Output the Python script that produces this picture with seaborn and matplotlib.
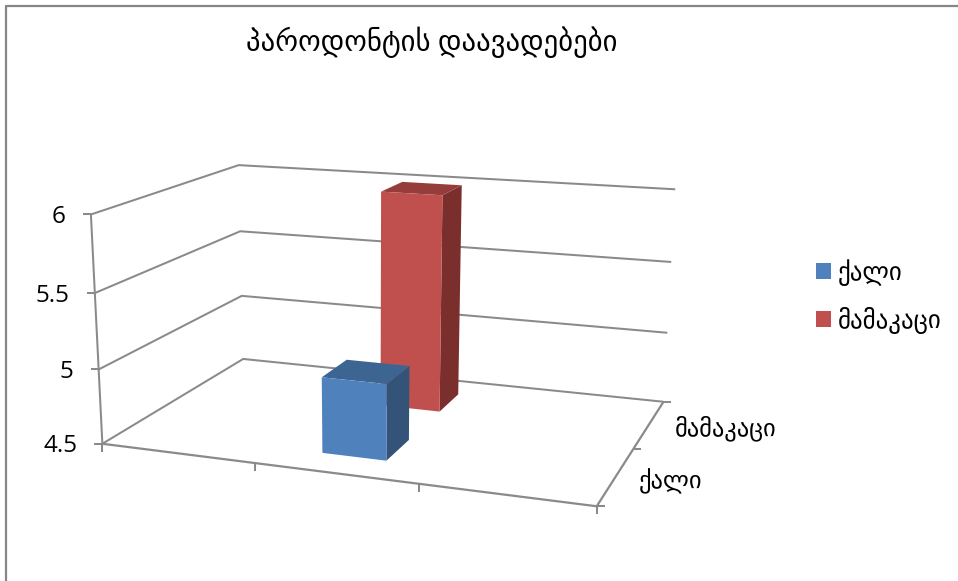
import numpy as np
import pandas as pd
import seaborn as sns
import matplotlib
matplotlib.use("Agg")
import matplotlib.pyplot as plt
from matplotlib.patches import Polygon, Patch

# ---- data ----
title = "პაროდონტის დაავადებები"
series = ["ქალი", "მამაკაცი"]
category_slots = ["", "", ""]
bar_slot = [1, 1]
values = [5.0, 6.0]
value_ticks = [4.5, 5.0, 5.5, 6.0]
value_labels = ["4.5", "5", "5.5", "6"]

df = pd.DataFrame({"series": series, "slot": bar_slot, "value": values})

sns.set_theme(style="white")
plt.rcParams["font.family"] = ["Open Sans", "DejaVu Sans"]

# ---- projection of the chart box (x, depth, value) onto the page ----
vmin, vmax = value_ticks[0], value_ticks[-1]
box = np.array([[0, 0, vmin], [1, 0, vmin], [1, 1, vmin], [0, 1, vmin],
                [0, 0, vmax], [0, 1, vmax], [1, 1, vmax],
                [0, 0, 5.0], [0, 1, 5.0], [1, 1, 5.0],
                [0, 0, 5.5], [0, 1, 5.5], [1, 1, 5.5]], float)
page = np.array([[102, 443.5], [597, 506], [663, 402], [243, 359],
                 [90.5, 215], [239, 165], [675, 189],
                 [99, 369.5], [242, 296], [668, 333],
                 [95, 293], [240, 231], [671, 262]], float)
A, b = [], []
for (X, Y, Z), (u, v) in zip(box, page):
    A.append([X, Y, Z, 1, 0, 0, 0, 0, -u*X, -u*Y, -u*Z]); b.append(u)
    A.append([0, 0, 0, 0, X, Y, Z, 1, -v*X, -v*Y, -v*Z]); b.append(v)
P = np.append(np.linalg.lstsq(np.array(A), np.array(b), rcond=None)[0], 1).reshape(3, 4)

def proj(x, y, z):
    q = P @ np.array([x, y, z, 1.0])
    return q[0]/q[2], q[1]/q[2]

fig = plt.figure(figsize=(9.58, 5.81), dpi=100, facecolor="white")
ax = fig.add_axes([0, 0, 1, 1])
ax.set_xlim(0, 958); ax.set_ylim(581, 0); ax.axis("off")

GRID = "#8a8a8a"
def line(pts, lw=1.45, color=GRID, z=2):
    xs, ys = zip(*pts)
    ax.plot(xs, ys, color=color, lw=lw, solid_capstyle="butt", solid_joinstyle="miter", zorder=z)

# outer frame
ax.plot([958, 6, 6], [6, 6, 581], color="#868686", lw=1.6, zorder=1)

# walls and floor
for v, lab in zip(value_ticks, value_labels):
    a, b_, c = proj(0, 0, v), proj(0, 1, v), proj(1, 1, v)
    line([a, b_, c])
    line([(a[0]-8, a[1]), a])
    ax.text(a[0]-25, a[1]+2.5, lab, ha="right", va="center", fontsize=17.5, color="black", zorder=6)
line([proj(0, 0, vmin), proj(0, 0, vmax)])
line([proj(0, 0, vmin), proj(1, 0, vmin)], lw=1.6, z=5)
line([proj(1, 0, vmin), proj(1, 1, vmin)], lw=1.6, z=5)

# category and depth ticks
n = len(category_slots)
for i in range(n+1):
    p = proj(i/n, 0, vmin)
    line([p, (p[0], p[1]+8)], z=5)
for j in range(len(series)+1):
    p = proj(1, j/len(series), vmin)
    line([p, (p[0]+8, p[1])], z=5)
for j, s in enumerate(series):
    p = proj(1, (j+0.5)/len(series), vmin)
    ax.text(p[0]+(23 if j == 0 else 26), p[1]+(5 if j == 0 else 4), s, ha="left", va="center",
            fontsize=17.6, color="black", zorder=6)

# bars
palette = sns.color_palette(["#4F81BD", "#C0504D"])
tops = ["#3C6591", "#953D3B"]
sides = ["#335379", "#7A2F2D"]
BAR = 0.4
for k in reversed(range(len(df))):
    row = df.iloc[k]
    x0 = (row["slot"] + 0.5 - BAR/2)/n
    x1 = (row["slot"] + 0.5 + BAR/2)/n
    y0 = (k + 0.5 - BAR/2)/len(series)
    y1 = (k + 0.5 + BAR/2)/len(series)
    v = row["value"]
    zo = 3 + (1 - k)
    ax.add_patch(Polygon([proj(x1, y0, vmin), proj(x1, y1, vmin), proj(x1, y1, v), proj(x1, y0, v)],
                         fc=sides[k], ec="none", zorder=zo))
    ax.add_patch(Polygon([proj(x0, y0, v), proj(x1, y0, v), proj(x1, y1, v), proj(x0, y1, v)],
                         fc=tops[k], ec="none", zorder=zo))
    ax.add_patch(Polygon([proj(x0, y0, vmin), proj(x1, y0, vmin), proj(x1, y0, v), proj(x0, y0, v)],
                         fc=palette[k], ec="none", zorder=zo))

ax.text(432, 42, title, ha="center", va="center", fontsize=20.7, color="black")

handles = [Patch(fc=palette[i], ec="none", label=series[i]) for i in range(len(series))]
leg = ax.legend(handles=handles, loc="upper left", bbox_to_anchor=(816/958, 1-259/581),
                frameon=False, fontsize=17.9, handlelength=0.6, handleheight=0.6,
                handletextpad=0.28, labelspacing=0.86, borderpad=0, borderaxespad=0)
for t in leg.get_texts():
    t.set_color("black")

sns.despine(ax=ax, left=True, bottom=True)
fig.savefig("out.png", dpi=100)
